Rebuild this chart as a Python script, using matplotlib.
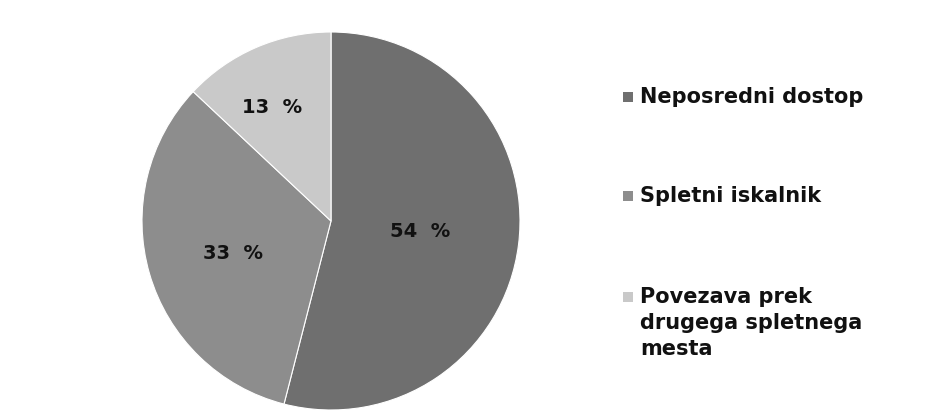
import matplotlib.pyplot as plt
from matplotlib.patches import Rectangle

# data
categories = ["Neposredni dostop", "Spletni iskalnik", "Povezava prek\ndrugega spletnega\nmesta"]
shares = [54, 33, 13]
colors = ["#6f6f6f", "#8d8d8d", "#c9c9c9"]

W, H = 931, 416
fig = plt.figure(figsize=(W / 100, H / 100), dpi=100)
fig.patch.set_facecolor("white")

# pie axes: center ~(331, 221), radius ~189 px
cx, cy, r = 331, 221, 189
ax = fig.add_axes([(cx - r) / W, (H - cy - r) / H, 2 * r / W, 2 * r / H])
wedges, _ = ax.pie(shares, colors=colors, startangle=90, counterclock=False,
                   radius=1, wedgeprops=dict(edgecolor="white", linewidth=0.8))
ax.set_xlim(-1, 1)
ax.set_ylim(-1, 1)
ax.set_aspect("equal")
ax.axis("off")

# percentage labels
label_pos = [(0.47, -0.053), (-0.52, -0.17), (-0.31, 0.6)]
for val, (lx, ly) in zip(shares, label_pos):
    ax.text(lx, ly, f"{val}  %", ha="center", va="center",
            fontsize=14, fontweight="bold", color="#111111")

# legend drawn by hand
rows_y = [97, 196, 297]
line_gap = 26
for name, col, y in zip(categories, colors, rows_y):
    fig.patches.append(Rectangle((623 / W, (H - y - 5) / H), 10 / W, 10 / H,
                                 transform=fig.transFigure, facecolor=col,
                                 edgecolor="none"))
    for i, line in enumerate(name.split("\n")):
        fig.text(640 / W, (H - y - i * line_gap) / H, line, ha="left", va="center",
                 fontsize=15, fontweight="bold", color="#111111")

fig.savefig("out.png", dpi=100)
